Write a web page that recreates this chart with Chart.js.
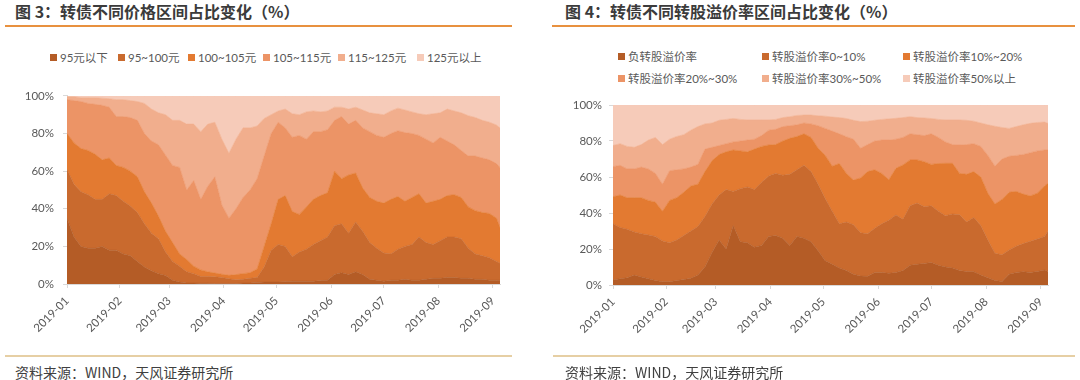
<!DOCTYPE html>
<html>
<head>
<meta charset="utf-8">
<script src="https://cdn.jsdelivr.net/npm/chart.js@4.4.1/dist/chart.umd.min.js"></script>
<style>
  html, body { margin: 0; padding: 0; background: #fff; }
  body { width: 1080px; height: 380px; position: relative; overflow: hidden;
         font-family: Lato, "Noto Sans CJK SC", sans-serif; }
  .title { position: absolute; top: 0px; font-family: "Noto Sans CJK SC", sans-serif;
           font-weight: bold; font-size: 16px; line-height: 22px; color: #3b3b3b; white-space: nowrap; }
  .topline { position: absolute; top: 25px; height: 2px; background: #e8913f; }
  .botline { position: absolute; top: 355px; height: 2px; background: #e6cfa4; }
  .source { position: absolute; top: 362px; font-family: "Noto Sans CJK SC", sans-serif;
            font-size: 14px; line-height: 20px; color: #404040; white-space: nowrap; }
  .leg { position: absolute; font-family: Lato, "Noto Sans CJK SC", sans-serif; font-size: 11.5px;
         line-height: 14px; color: #595959; white-space: nowrap; }
  .leg i { display: inline-block; width: 7px; height: 7px; margin-right: 3px; vertical-align: 1px; }
  canvas { position: absolute; }
</style>
</head>
<body>
<div class="title" style="left:15px;">图 3：转债不同价格区间占比变化（%）</div>
<div class="topline" style="left:5px;width:507px;"></div>
<div class="title" style="left:565px;">图 4：转债不同转股溢价率区间占比变化（%）</div>
<div class="topline" style="left:552px;width:523px;"></div>
<div id="legend3"></div>
<div id="legend4"></div>
<canvas id="c3" width="520" height="275" style="left:0px;top:80px;"></canvas>
<canvas id="c4" width="530" height="270" style="left:540px;top:90px;"></canvas>
<div class="botline" style="left:5px;width:507px;"></div>
<div class="botline" style="left:553px;width:522px;"></div>
<div class="source" style="left:15px;">资料来源：WIND，天风证券研究所</div>
<div class="source" style="left:565px;">资料来源：WIND，天风证券研究所</div>

<script>
// ---------------- DATA ----------------
const dates = [
  '2019-01-02','2019-01-06','2019-01-10','2019-01-14','2019-01-18','2019-01-22','2019-01-26','2019-01-30',
  '2019-02-03','2019-02-07','2019-02-11','2019-02-15','2019-02-19','2019-02-23','2019-02-27',
  '2019-03-03','2019-03-07','2019-03-11','2019-03-15','2019-03-19','2019-03-23','2019-03-27','2019-03-31',
  '2019-04-04','2019-04-08','2019-04-12','2019-04-16','2019-04-20','2019-04-24','2019-04-28',
  '2019-05-02','2019-05-06','2019-05-10','2019-05-14','2019-05-18','2019-05-22','2019-05-26','2019-05-30',
  '2019-06-03','2019-06-07','2019-06-11','2019-06-15','2019-06-19','2019-06-23','2019-06-27',
  '2019-07-01','2019-07-05','2019-07-09','2019-07-13','2019-07-17','2019-07-21','2019-07-25','2019-07-29',
  '2019-08-02','2019-08-06','2019-08-10','2019-08-14','2019-08-18','2019-08-22','2019-08-26','2019-08-30',
  '2019-09-03','2019-09-05'
];
const monthLabels = ['2019-01','2019-02','2019-03','2019-04','2019-05','2019-06','2019-07','2019-08','2019-09'];
const yTicks = [0, 20, 40, 60, 80, 100];

// Figure 3: cumulative share (%) of convertible bonds priced below each bound
const priceBands = ['95元以下','95~100元','100~105元','105~115元','115~125元','125元以上'];
const below95 = [35,25,20,19,19,20,18,18,16,15, 12,9,7,5.5,4.5,2,1,0.5,0.5,0.4, 0.4,0.3,0.3,0.3,0.3,0.5,0.5,0.8,1,1,
  1,1.2,1.5,1.5,1.5,1.5,1.8,2,5,6, 5,6.5,5,2.5,2,1.5,2,2,2.5,2, 2,2.5,3,3,3.5,3.5,3,3,2.5,2.5, 2,2,2];
const below100 = [61,53,49,47.5,45,45,48,47,44,41.5, 38,32,27,24,17,12,9.5,6.5,5.5,4, 4,3.8,3.5,2.8,2.2,2.5,3,3.5,9,18,
  21,20,14.5,17,18.5,21,23,25,31,32, 27,33,28,22,19,16.5,16,18.5,20,21, 25,22,21,23,25,25,24,19,16,15, 14,12,11];
const below105 = [80,75,72,71,69,66,67,63,62,60, 57,49,43,36,28,22,16,13,9.5,7.5, 6.5,5.8,5.2,4.6,5,5.5,6,8,20,32,
  45,47,38.5,37,41,45,47,48.5,60,56, 58,59,51,46,44,43,45,46.5,44,46, 48,43,44,45,47,47.5,46,41,39,38, 37.5,35,30];
const below115 = [98,97.5,97,96,95.5,95,94,89,89,88.5, 87,80,76,74,68.5,63,62,50,55,45, 52,57,42,35,40,46,50,56,68,80,
  86,83,78,79,77,81,81,82,87,89, 85,87,83,81,79,78,80,81.5,80.5,80, 79,77,75,78,76,74,71,68,68,67, 66,64,62];
const below125 = [99.5,99.5,99,99,99,98.8,98.5,98,98,97.5, 97,96,93,91,90,87,87,85,85,81, 85,86,77,69.5,77,83,83,84,88,90,
  92,93,90.5,90,91.5,92,91.5,92,94,94, 93,94,92.5,91,90.5,90,92,93.5,92.5,91.5, 90.5,90,90.5,91,93,92,91,89.5,88.5,87, 86,84.5,83];

// Figure 4: cumulative share (%) of convertible bonds with conversion premium below each bound
const premiumBands = ['负转股溢价率','转股溢价率0~10%','转股溢价率10%~20%','转股溢价率20%~30%','转股溢价率30%~50%','转股溢价率50%以上'];
const premBelow0 = [2.8,3.5,4,5.5,4.5,3.5,2.5,1.8,1.8,2.5, 3,3.7,5.5,10,18,25,20,33,24,23.5, 21,22,27,27.5,26,22,27,26,24,19,
  13.5,11.5,9.5,8,6,5,4.8,7,7,6.5, 7,8,11,11.5,12,12.5,11,10,9.5,8, 7.5,7.4,5.5,4,2.5,2,6,7,7.4,7, 7.5,8.3,7.5];
const premBelow10 = [34,32,31,29.5,28.5,27.8,27,24.5,23.5,25, 27.5,30,32.5,38,45,50,53,52,53.5,54.5, 53,57,60.5,62,61,61.5,64,66.5,63,56,
  48,41,34,35,33.5,29,28.5,31.5,34,36, 38.9,36.5,44,45.5,43.5,44,41,38.5,39.5,39, 35,37.5,33,25,17.6,16.8,19.5,21.5,23,24.3, 25.5,27,30];
const premBelow20 = [49,50,48.5,48.5,48.5,47,46,41,47,48.5, 51.5,55,56,63,69,72.5,74,75,74.5,74, 75.5,77,77.8,78,80,81.5,82.5,84,82,76,
  72,66,67.5,62,58.3,59.5,63,64,62,58.5, 64.8,66.7,69.5,69.5,68.5,67,67.5,67.6,67.6,62, 61.5,63,60,51,45,47.5,51.5,52,50.5,49.5, 51,55,56.5];
const premBelow30 = [65.7,66.5,64.5,64.5,65.5,64.5,62,56,63.5,64, 64.5,65.5,67,75.5,76.5,77.5,78.5,79.5,80,80.5, 81,83,86,86.5,88,88.5,89,90,89.5,88.5,
  87,85.5,84,82.4,81,76,78,80,80.5,80.5, 81,82,84,83.5,83,84,82,79.5,78,77.8, 78,78.5,77,72,66,70,71.5,72,72.5,73.5, 74.5,75,75];
const premBelow50 = [77.5,78.5,77,76.5,78,80.5,82,78,81,82.5, 83.5,86,88,89.5,90,91.5,92,92.5,92,91.7, 91.7,91.7,91.7,92,93,93.5,94.2,94.4,94.4,94,
  93.8,93.3,93,92.5,91.5,90.8,91,91.5,92,92.3, 92.6,93,93.5,93,92.8,92.5,92,91.7,91.7,91.7, 91.5,91,90,89,88.2,87.5,87,88,89,89.8, 90.3,90.5,89.8];
const totalShare = 100;

// ---------------- STYLE ----------------
const colors = ['#b45c26', '#c96a2e', '#e37a31', '#ec9466', '#f1ae8d', '#f6cbb9'];

function dayIdx(s) {
  const p = s.split('-').map(Number);
  return (Date.UTC(p[0], p[1] - 1, p[2] || 1) - Date.UTC(2019, 0, 1)) / 864e5;
}
const xs = dates.map(dayIdx);
const xMin = xs[0], xMax = xs[xs.length - 1];
const monthTickVals = monthLabels.map(m => Math.max(dayIdx(m + '-01'), xMin));

function buildLegend(id, names, positions) {
  const host = document.getElementById(id);
  names.forEach((n, i) => {
    const d = document.createElement('div');
    d.className = 'leg';
    d.style.left = positions[i][0] + 'px';
    d.style.top = positions[i][1] + 'px';
    d.innerHTML = '<i style="background:' + colors[i] + '"></i>' + n;
    host.appendChild(d);
  });
}
buildLegend('legend3', priceBands, [[50,51],[118,51],[188,51],[263,51],[338,51],[417,51]]);
buildLegend('legend4', premiumBands, [[618,50],[762,50],[903,50],[618,72],[762,72],[903,72]]);

function makeChart(canvasId, series, names, geo) {
  const all = series.concat([dates.map(() => totalShare)]);
  const datasets = all.map((arr, i) => ({
    label: names[i],
    data: arr.map((v, k) => ({ x: xs[k], y: v })),
    fill: i === 0 ? 'origin' : '-1',
    backgroundColor: colors[i],
    borderColor: colors[i],
    borderWidth: 0.6,
    pointRadius: 0,
    tension: 0
  }));
  return new Chart(document.getElementById(canvasId), {
    type: 'line',
    data: { datasets },
    options: {
      responsive: false,
      animation: false,
      devicePixelRatio: 1,
      events: [],
      layout: { padding: { top: geo.top, right: geo.right, left: 0, bottom: 0 } },
      plugins: { legend: { display: false }, tooltip: { enabled: false } },
      scales: {
        x: {
          type: 'linear', min: xMin, max: xMax,
          afterFit: s => { s.height = geo.xh; },
          afterBuildTicks: s => { s.ticks = monthTickVals.map(v => ({ value: v })); },
          grid: { drawOnChartArea: false, color: '#d9d9d9', tickLength: 4 },
          border: { color: '#d9d9d9' },
          ticks: {
            autoSkip: false, minRotation: 45, maxRotation: 45, padding: geo.xpad,
            color: '#595959', font: { size: 11.5, family: 'Lato, "Noto Sans CJK SC", sans-serif' },
            callback: (v, i) => monthLabels[i]
          }
        },
        y: {
          min: 0, max: 100,
          afterFit: s => { s.width = geo.yw; },
          afterBuildTicks: s => { s.ticks = yTicks.map(v => ({ value: v })); },
          grid: { drawOnChartArea: false, color: '#d9d9d9', tickLength: 4 },
          border: { color: '#d9d9d9' },
          ticks: {
            padding: geo.ypad, color: '#595959',
            font: { size: 11.5, family: 'Lato, "Noto Sans CJK SC", sans-serif' },
            callback: v => v + '%'
          }
        }
      }
    }
  });
}

makeChart('c3', [below95, below100, below105, below115, below125], priceBands,
  { top: 7, right: 20, xh: 71, yw: 67, ypad: 9, xpad: 6 });
makeChart('c4', [premBelow0, premBelow10, premBelow20, premBelow30, premBelow50], premiumBands,
  { top: 15, right: 22, xh: 75, yw: 73, ypad: 7, xpad: 6 });
</script>
</body>
</html>
